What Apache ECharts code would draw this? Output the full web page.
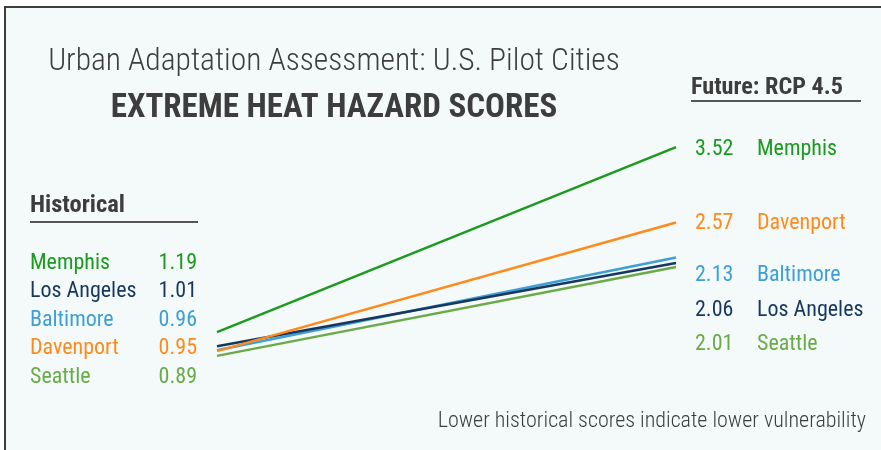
<!DOCTYPE html>
<html>
<head>
<meta charset="utf-8">
<script src="https://cdn.jsdelivr.net/npm/echarts@6/dist/echarts.min.js"></script>
<style>
  html, body { margin: 0; padding: 0; background: #fff; }
  #main { width: 881px; height: 450px; }
</style>
</head>
<body>
<div id="main"></div>
<script>
// periods on the x axis
const periods = ['Historical', 'Future: RCP 4.5']
// cities, in the order of the historical list
const cities = ['Memphis', 'Los Angeles', 'Baltimore', 'Davenport', 'Seattle']
const historical = [1.19, 1.01, 0.96, 0.95, 0.89]
const future = [3.52, 2.06, 2.13, 2.57, 2.01]
// order of the future list (top to bottom)
const futureOrder = ['Memphis', 'Davenport', 'Baltimore', 'Los Angeles', 'Seattle']
const cityColors = {
    'Memphis': '#1b9a1f',
    'Los Angeles': '#17375f',
    'Baltimore': '#3d9fd5',
    'Davenport': '#ff8a1c',
    'Seattle': '#6aaa48'
}

const FONT = "'Roboto Condensed', 'Liberation Sans Narrow', 'DejaVu Sans Condensed', 'Roboto', sans-serif"
const DARK = '#3d3d3d'

const chart = echarts.init(document.getElementById('main'))

// left list rows / right list rows (y centres)
const leftRows = [263, 291, 320, 348, 377]
const rightRows = [149, 223, 275, 310, 344]

const graphics = [
    // frame
    {
        type: 'rect', z: -10, silent: true,
        shape: { x: 5, y: 7, width: 900, height: 460 },
        style: { fill: '#f4fafa', stroke: DARK, lineWidth: 2 }
    },
    {
        type: 'text', silent: true,
        style: { x: 334, y: 62, text: 'Urban Adaptation Assessment: U.S. Pilot Cities', fill: DARK,
            font: '300 31.5px ' + FONT, align: 'center', verticalAlign: 'middle' }
    },
    {
        type: 'text', silent: true,
        style: { x: 334, y: 109, text: 'EXTREME HEAT HAZARD SCORES', fill: DARK,
            font: 'bold 33px ' + FONT, align: 'center', verticalAlign: 'middle' }
    },
    {
        type: 'text', silent: true,
        style: { x: 30, y: 206, text: periods[0], fill: DARK,
            font: 'bold 24.5px ' + FONT, align: 'left', verticalAlign: 'middle' }
    },
    {
        type: 'line', silent: true,
        shape: { x1: 30, y1: 222, x2: 198, y2: 222 },
        style: { stroke: '#555', lineWidth: 2 }
    },
    {
        type: 'text', silent: true,
        style: { x: 691, y: 88, text: periods[1], fill: DARK,
            font: 'bold 24.2px ' + FONT, align: 'left', verticalAlign: 'middle' }
    },
    {
        type: 'line', silent: true,
        shape: { x1: 691, y1: 101, x2: 861, y2: 101 },
        style: { stroke: '#555', lineWidth: 2 }
    },
    {
        type: 'text', silent: true,
        style: { x: 866, y: 421, text: 'Lower historical scores indicate lower vulnerability', fill: DARK,
            font: '300 22px ' + FONT, align: 'right', verticalAlign: 'middle' }
    }
]

cities.forEach(function (c, i) {
    graphics.push({
        type: 'text', silent: true,
        style: { x: 30, y: leftRows[i], text: c, fill: cityColors[c],
            font: '22px ' + FONT, align: 'left', verticalAlign: 'middle' }
    })
    graphics.push({
        type: 'text', silent: true,
        style: { x: 197, y: leftRows[i], text: historical[i].toFixed(2), fill: cityColors[c],
            font: '22px ' + FONT, align: 'right', verticalAlign: 'middle' }
    })
})

futureOrder.forEach(function (c, i) {
    const idx = cities.indexOf(c)
    graphics.push({
        type: 'text', silent: true,
        style: { x: 695, y: rightRows[i], text: future[idx].toFixed(2), fill: cityColors[c],
            font: '22px ' + FONT, align: 'left', verticalAlign: 'middle' }
    })
    graphics.push({
        type: 'text', silent: true,
        style: { x: 757, y: rightRows[i], text: c, fill: cityColors[c],
            font: '22px ' + FONT, align: 'left', verticalAlign: 'middle' }
    })
})

// draw lower lines first so Memphis stays on top like in the picture
const drawOrder = ['Seattle', 'Baltimore', 'Los Angeles', 'Davenport', 'Memphis']
const series = drawOrder.map(function (c) {
    const i = cities.indexOf(c)
    return {
        name: c,
        type: 'line',
        data: [historical[i], future[i]],
        symbol: 'none',
        lineStyle: { color: cityColors[c], width: 2.5 },
        itemStyle: { color: cityColors[c] },
        silent: true,
        animation: false
    }
})

chart.setOption({
    backgroundColor: '#ffffff',
    animation: false,
    grid: { left: 217, right: 205, top: 109, bottom: 23.5 },
    xAxis: {
        type: 'category',
        boundaryGap: false,
        data: periods,
        show: false
    },
    yAxis: {
        type: 'value',
        min: 0,
        max: 4,
        show: false
    },
    graphic: graphics,
    series: series
})
</script>
</body>
</html>
